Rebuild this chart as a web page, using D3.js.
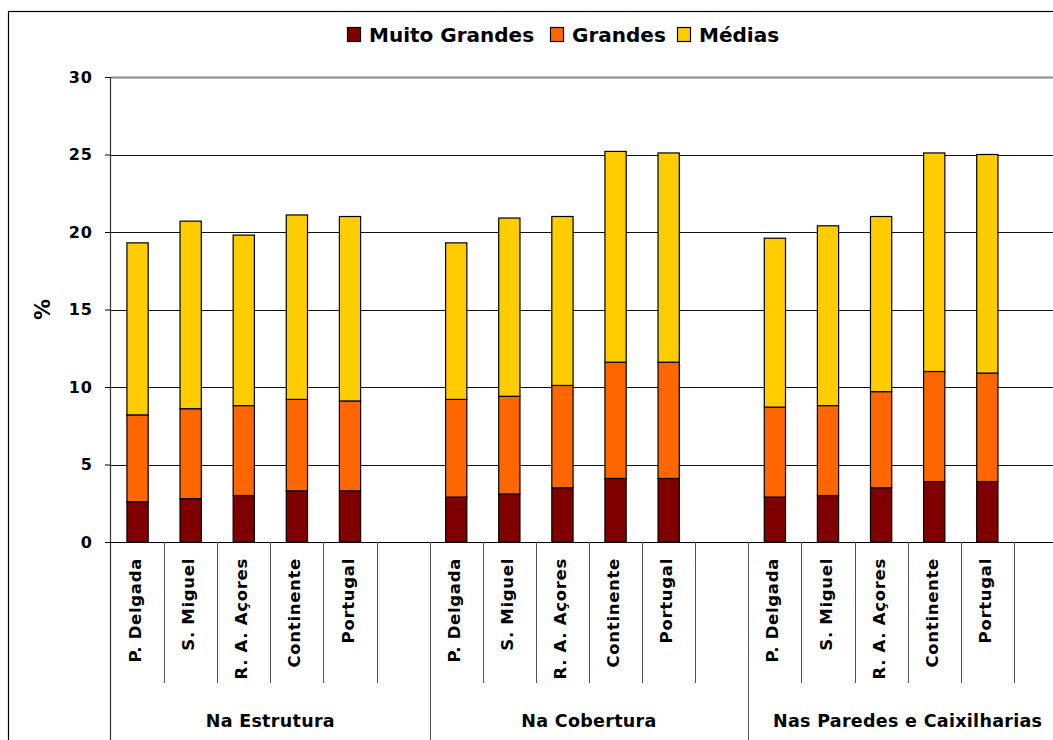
<!DOCTYPE html>
<html>
<head>
<meta charset="utf-8">
<script src="https://cdn.jsdelivr.net/npm/d3@7"></script>
<style>
  body { margin: 0; background: #fff; }
  svg { display: block; font-family: "DejaVu Sans", sans-serif; font-weight: bold; }
</style>
</head>
<body>
<svg id="chart"></svg>
<script>
// data
const groups = ["Na Estrutura", "Na Cobertura", "Nas Paredes e Caixilharias"];
const categories = ["P. Delgada", "S. Miguel", "R. A. Açores", "Continente", "Portugal"];
const seriesNames = ["Muito Grandes", "Grandes", "Médias"];
const muitoGrandes = [2.6, 2.8, 3.0, 3.3, 3.3,  2.9, 3.1, 3.5, 4.1, 4.1,  2.9, 3.0, 3.5, 3.9, 3.9];
const grandes      = [5.6, 5.8, 5.8, 5.9, 5.8,  6.3, 6.3, 6.6, 7.5, 7.5,  5.8, 5.8, 6.2, 7.1, 7.0];
const medias       = [11.1, 12.1, 11.0, 11.9, 11.9,  10.1, 11.5, 10.9, 13.6, 13.5,  10.9, 11.6, 11.3, 14.1, 14.1];
const yTicks = [0, 5, 10, 15, 20, 25, 30];
const colors = ["#800000", "#ff6600", "#ffcc00"];

const width = 1053, height = 740;
const margin = {top: 77, bottom: 198, left: 111};
const plotRight = 1067;

// each group has 5 categories + 1 empty slot
const slots = [];
groups.forEach((g, gi) => {
    categories.forEach((c, ci) => slots.push({key: g + "|" + c, group: g, cat: c, i: gi * 5 + ci}));
    slots.push({key: g + "|", group: g, cat: "", i: -1});
});
const data = slots.filter(s => s.i >= 0).map(s => ({
    key: s.key, cat: s.cat, group: s.group,
    "Muito Grandes": muitoGrandes[s.i], "Grandes": grandes[s.i], "Médias": medias[s.i]
}));

const svg = d3.select("#chart").attr("width", width).attr("height", height);

const x = d3.scaleBand().domain(slots.map(s => s.key)).range([margin.left, plotRight]);
const y = d3.scaleLinear().domain([0, 30]).range([height - margin.bottom, margin.top]);
const color = d3.scaleOrdinal(seriesNames, colors);
const xg = d3.scaleBand().domain(groups).range([margin.left, plotRight]);

// outer frame
svg.append("rect")
    .attr("x", 8.5).attr("y", 11.5)
    .attr("width", 1200).attr("height", 900)
    .attr("fill", "none").attr("stroke", "#000").attr("stroke-width", 1.2);

// grid
svg.append("g")
    .selectAll("line")
    .data(yTicks.filter(d => d > 0))
    .join("line")
    .attr("x1", margin.left).attr("x2", plotRight)
    .attr("y1", d => Math.round(y(d)) + 0.5).attr("y2", d => Math.round(y(d)) + 0.5)
    .attr("stroke", d => d === 30 ? "#888" : "#111")
    .attr("stroke-width", d => d === 30 ? 2 : 1);

// y axis
svg.append("g")
    .attr("transform", `translate(${margin.left},0)`)
    .call(d3.axisLeft(y).tickValues(yTicks).tickSize(6).tickPadding(12))
    .call(g => g.select(".domain").remove())
    .call(g => g.selectAll(".tick line").attr("stroke", "#000"))
    .call(g => g.selectAll("text")
        .attr("font-size", 16).attr("font-weight", "bold")
        .attr("font-family", "'DejaVu Sans', sans-serif").attr("fill", "#000")
        .attr("letter-spacing", 1));

svg.append("line")
    .attr("x1", margin.left - 0.5).attr("x2", margin.left - 0.5)
    .attr("y1", margin.top).attr("y2", height)
    .attr("stroke", "#333").attr("stroke-width", 1.2);

svg.append("text")
    .attr("transform", `translate(50,${(margin.top + height - margin.bottom) / 2}) rotate(-90)`)
    .attr("text-anchor", "middle")
    .attr("font-size", 21)
    .text("%");

// bars
const stack = d3.stack().keys(seriesNames)(data);
const barW = x.bandwidth() * 0.4;
svg.append("g")
    .selectAll("g")
    .data(stack)
    .join("g")
    .attr("fill", d => color(d.key))
    .selectAll("rect")
    .data(d => d)
    .join("rect")
    .attr("x", d => x(d.data.key) + (x.bandwidth() - barW) / 2)
    .attr("y", d => y(d[1]))
    .attr("width", barW)
    .attr("height", d => y(d[0]) - y(d[1]))
    .attr("stroke", "#000")
    .attr("stroke-width", 1.2);

// baseline
svg.append("line")
    .attr("x1", margin.left - 6).attr("x2", plotRight)
    .attr("y1", y(0) + 0.5).attr("y2", y(0) + 0.5)
    .attr("stroke", "#000");

// category separators and labels
const sepBottom = 683;
svg.append("g")
    .selectAll("line")
    .data(slots.filter((s, i) => i % 6 !== 0))
    .join("line")
    .attr("x1", d => Math.round(x(d.key)) + 0.5).attr("x2", d => Math.round(x(d.key)) + 0.5)
    .attr("y1", y(0)).attr("y2", sepBottom)
    .attr("stroke", "#555");

svg.append("g")
    .selectAll("line")
    .data(groups.slice(1))
    .join("line")
    .attr("x1", d => Math.round(xg(d)) + 0.5).attr("x2", d => Math.round(xg(d)) + 0.5)
    .attr("y1", y(0)).attr("y2", height)
    .attr("stroke", "#555");

svg.append("g")
    .selectAll("text")
    .data(slots.filter(s => s.cat))
    .join("text")
    .attr("transform", d => `translate(${x(d.key) + x.bandwidth() / 2 + 3.5},${y(0) + 16}) rotate(-90)`)
    .attr("text-anchor", "end")
    .attr("font-size", 16.5)
    .attr("letter-spacing", 0.7)
    .text(d => d.cat);

svg.append("g")
    .selectAll("text")
    .data(groups)
    .join("text")
    .attr("x", d => xg(d) + xg.bandwidth() / 2)
    .attr("y", 727)
    .attr("text-anchor", "middle")
    .attr("font-size", 17.5)
    .attr("letter-spacing", 0.3)
    .text(d => d);

// legend
const legendItems = [
    {name: "Muito Grandes", x: 347},
    {name: "Grandes", x: 550},
    {name: "Médias", x: 677}
];
const legend = svg.append("g");
legend.selectAll("rect")
    .data(legendItems)
    .join("rect")
    .attr("x", d => d.x + 0.5).attr("y", 27.5)
    .attr("width", 13).attr("height", 14)
    .attr("fill", d => color(d.name))
    .attr("stroke", "#000").attr("stroke-width", 1.2);
legend.selectAll("text")
    .data(legendItems)
    .join("text")
    .attr("x", d => d.x + 22).attr("y", 42)
    .attr("font-size", 20)
    .text(d => d.name);
</script>
</body>
</html>
